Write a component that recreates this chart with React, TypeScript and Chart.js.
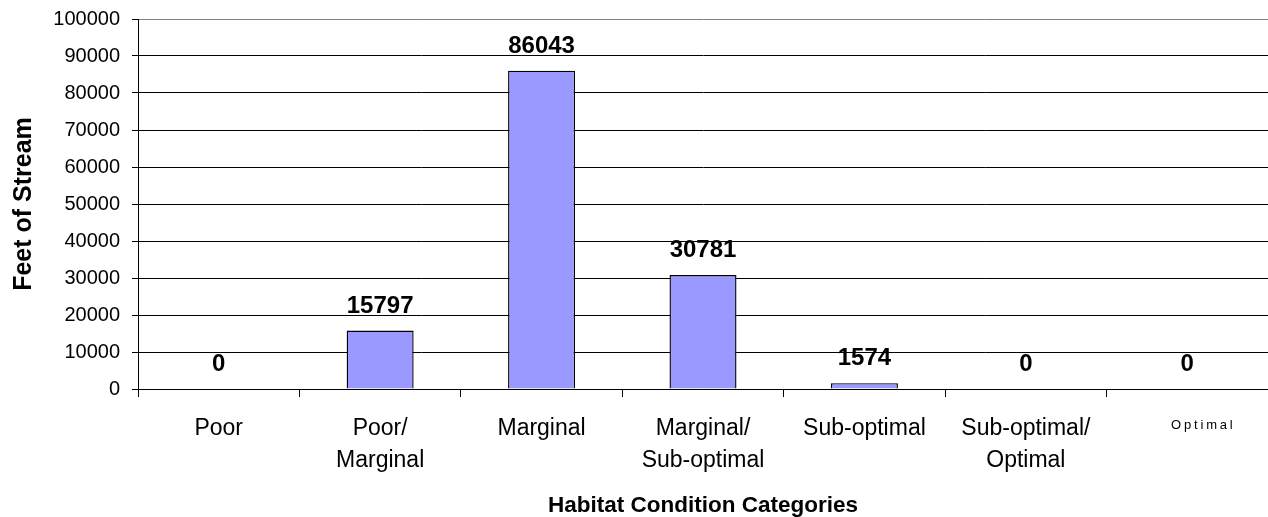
import React, { useEffect, useRef } from "react";
import { Chart, registerables } from "chart.js";

Chart.register(...registerables);

const categories: string[][] = [
  ["Poor"],
  ["Poor/", "Marginal"],
  ["Marginal"],
  ["Marginal/", "Sub-optimal"],
  ["Sub-optimal"],
  ["Sub-optimal/", "Optimal"],
  ["Optimal"],
];
const feetOfStream = [0, 15797, 86043, 30781, 1574, 0, 0];
const yMin = 0;
const yMax = 100000;
const yStep = 10000;
const yTitle = "Feet of Stream";
const xTitle = "Habitat Condition Categories";
const smallLabelIndex = 6;

const FONT = '"Liberation Sans", Arial, Helvetica, sans-serif';

const valueLabels = {
  id: "valueLabels",
  afterDatasetsDraw(chart: any) {
    const ctx = chart.ctx;
    const meta = chart.getDatasetMeta(0);
    ctx.save();
    ctx.font = `bold 24px ${FONT}`;
    ctx.fillStyle = "#000";
    ctx.textAlign = "center";
    ctx.textBaseline = "alphabetic";
    meta.data.forEach((bar: any, i: number) => {
      ctx.fillText(String(feetOfStream[i]), bar.x, bar.y - 18);
    });
    ctx.restore();
  },
};

const spacedLabel = {
  id: "spacedLabel",
  afterDraw(chart: any) {
    const ctx = chart.ctx;
    const xs = chart.scales.x;
    const text = categories[smallLabelIndex].join(" ");
    ctx.save();
    ctx.font = `13px ${FONT}`;
    (ctx as any).letterSpacing = "2.8px";
    ctx.fillStyle = "#000";
    ctx.textAlign = "center";
    ctx.textBaseline = "middle";
    ctx.fillText(text, xs.getPixelForValue(smallLabelIndex) + 16, xs.top + 36);
    ctx.restore();
  },
};

export default function App() {
  const ref = useRef<HTMLCanvasElement | null>(null);

  useEffect(() => {
    if (!ref.current) return;
    const chart = new Chart(ref.current, {
      type: "bar",
      data: {
        labels: categories,
        datasets: [
          {
            data: feetOfStream,
            backgroundColor: "#9999FF",
            borderColor: "#000000",
            borderWidth: 1.4,
            categoryPercentage: 1,
            barPercentage: 0.415,
          },
        ],
      },
      options: {
        animation: false,
        responsive: true,
        maintainAspectRatio: false,
        layout: { padding: { top: 19, right: 0, left: 0, bottom: 0 } },
        plugins: {
          legend: { display: false },
          tooltip: { enabled: false },
        },
        scales: {
          x: {
            afterFit: (s: any) => {
              s.height = 128;
            },
            grid: {
              display: true,
              drawOnChartArea: false,
              drawTicks: true,
              tickLength: 8,
              color: "#000",
              lineWidth: 1,
            },
            border: { display: true, color: "#000", width: 1 },
            ticks: {
              autoSkip: false,
              maxRotation: 0,
              minRotation: 0,
              padding: 16,
              font: { family: FONT, size: 23, lineHeight: 1.39 },
              color: (c: any) => (c.index === smallLabelIndex ? "rgba(0,0,0,0)" : "#000"),
            },
            title: {
              display: true,
              text: xTitle,
              color: "#000",
              font: { family: FONT, size: 22.5, weight: "bold", lineHeight: 1 },
              padding: { top: 0, bottom: 0 },
            },
          },
          y: {
            min: yMin,
            max: yMax,
            afterFit: (s: any) => {
              s.width = 138;
              s.paddingTop = 0;
              s.paddingBottom = 0;
            },
            grid: {
              color: (c: any) => (c.tick && c.tick.value === yMax ? "#808080" : "#000"),
              lineWidth: 1,
              drawTicks: true,
              tickLength: 6,
              tickColor: "#000",
            },
            border: { display: true, color: "#000", width: 1 },
            ticks: {
              stepSize: yStep,
              padding: 12,
              color: "#000",
              font: { family: FONT, size: 20 },
              callback: (v: any) => String(v),
            },
            title: {
              display: true,
              text: yTitle,
              color: "#000",
              font: { family: FONT, size: 25, weight: "bold", lineHeight: 1 },
              padding: { top: 12, bottom: 0 },
            },
          },
        },
      },
      plugins: [valueLabels, spacedLabel],
    });
    return () => chart.destroy();
  }, []);

  return (
    <div style={{ position: "absolute", left: 0, top: 0, width: 1268, height: 517 }}>
      <canvas ref={ref} />
    </div>
  );
}
